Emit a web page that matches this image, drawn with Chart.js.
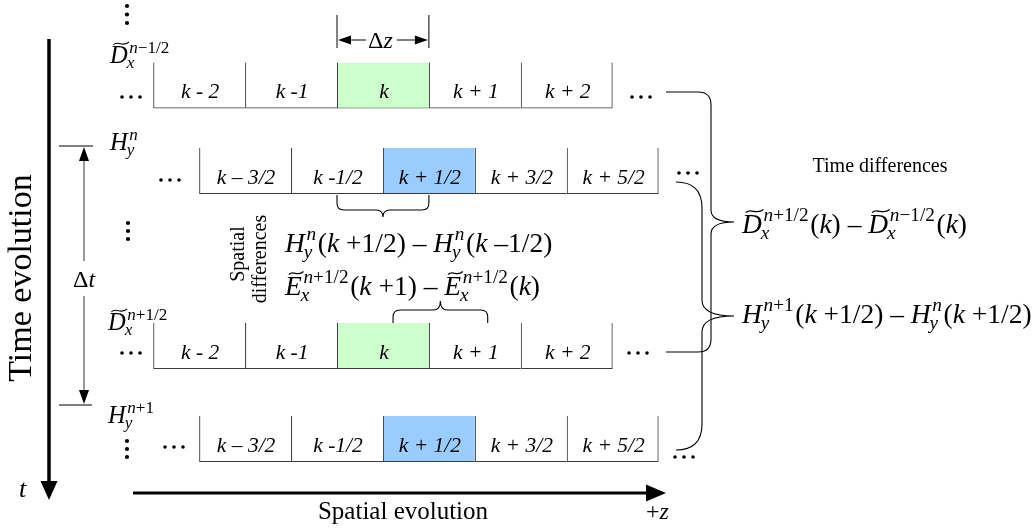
<!DOCTYPE html>
<html><head><meta charset="utf-8">
<script src="https://cdn.jsdelivr.net/npm/chart.js@4.4.0/dist/chart.umd.min.js"></script>
<style>html,body{margin:0;padding:0;background:#fff;overflow:hidden}#wrap{width:1034px;height:531px}</style>
</head><body><div id="wrap"><canvas id="c" width="1034" height="531"></canvas></div>
<script>
// ---------- data ----------
const integerCellStarts = [-2, -1, 0, 1, 2];
const integerCellLabels = ['k - 2', 'k -1', 'k', 'k + 1', 'k + 2'];
const halfCellStarts = [-1.5, -0.5, 0.5, 1.5, 2.5];
const halfCellLabels = ['k \u2013 3/2', 'k -1/2', 'k + 1/2', 'k + 3/2', 'k + 5/2'];
const rowNames = ['D n-1/2', 'H n', 'D n+1/2', 'H n+1'];
const rowIsHalf = [false, true, false, true];
const highlightIndex = 2;

// ---------- layout / style ----------
const SERIF = '"Liberation Serif", "Times New Roman", serif';
const X0PX = 337, UNIT = 91.9;
const ROW_CENTER = [85.5, 171, 346, 439];
const ROW_H = 46;
const GREEN = '#ccffcc', BLUE = '#99ccff', EDGE = '#3a3a3a';

const datasets = rowNames.map((name, r) => {
  const starts = rowIsHalf[r] ? halfCellStarts : integerCellStarts;
  const labels = rowIsHalf[r] ? halfCellLabels : integerCellLabels;
  const hl = rowIsHalf[r] ? BLUE : GREEN;
  return {
    label: name,
    cellLabels: labels,
    data: starts.map(s => ({ x: [s, s + 1], y: ROW_CENTER[r] })),
    backgroundColor: starts.map((s, i) => i === highlightIndex ? hl : 'rgba(255,255,255,0)'),
    borderColor: EDGE,
    borderWidth: ctx => ({ top: 0, bottom: 1, left: 1, right: ctx.dataIndex === starts.length - 1 ? 1 : 0 }),
    borderSkipped: false,
    inflateAmount: 0,
    barThickness: ROW_H,
    grouped: false
  };
});

// ---------- math text helpers ----------
function runs(ctx, x, y, str, size) {
  const parts = str.match(/([A-Za-z]+|[^A-Za-z]+)/g) || [];
  for (const p of parts) {
    const it = /[A-Za-z]/.test(p);
    ctx.font = (it ? 'italic ' : '') + size + 'px ' + SERIF;
    ctx.fillText(p, x, y);
    x += ctx.measureText(p).width;
  }
  return x;
}
function tilde(ctx, a, b, y0, lw) {
  ctx.save();
  ctx.lineWidth = lw;
  ctx.beginPath();
  ctx.moveTo(a, y0 + 1.5);
  ctx.bezierCurveTo(a + (b - a) * 0.3, y0 - 3.5, a + (b - a) * 0.6, y0 + 4.5, b, y0 - 1.5);
  ctx.stroke();
  ctx.restore();
}
function math(ctx, x, y, tokens, size, ratio) {
  ratio = ratio || 0.7;
  ctx.textAlign = 'left';
  ctx.textBaseline = 'alphabetic';
  let cx = x;
  for (const t of tokens) {
    if (typeof t === 'string') { cx = runs(ctx, cx, y, t, size); continue; }
    if (t.tl) {
      const nx = runs(ctx, cx, y, t.tl, size);
      tilde(ctx, cx + size * 0.14, nx + size * 0.06, y - size * 0.8, Math.max(1, size * 0.045));
      cx = nx; continue;
    }
    const ss = size * ratio;
    let e1 = cx, e2 = cx;
    if (t.sup) e1 = runs(ctx, cx + size * 0.06, y - size * 0.42, t.sup, ss);
    if (t.sub) e2 = runs(ctx, cx - size * 0.04, y + size * 0.22, t.sub, ss);
    cx = Math.max(e1, e2) + size * 0.06;
  }
  return cx;
}

// ---------- drawing helpers ----------
function seg(ctx, x1, y1, x2, y2, w, c) {
  ctx.save(); ctx.strokeStyle = c || '#000'; ctx.lineWidth = w;
  ctx.beginPath(); ctx.moveTo(x1, y1); ctx.lineTo(x2, y2); ctx.stroke(); ctx.restore();
}
function head(ctx, tx, ty, dir, len, hw) {
  ctx.save(); ctx.fillStyle = '#000'; ctx.beginPath();
  if (dir === 'down') { ctx.moveTo(tx, ty); ctx.lineTo(tx - hw, ty - len); ctx.lineTo(tx + hw, ty - len); }
  if (dir === 'up') { ctx.moveTo(tx, ty); ctx.lineTo(tx - hw, ty + len); ctx.lineTo(tx + hw, ty + len); }
  if (dir === 'right') { ctx.moveTo(tx, ty); ctx.lineTo(tx - len, ty - hw); ctx.lineTo(tx - len, ty + hw); }
  if (dir === 'left') { ctx.moveTo(tx, ty); ctx.lineTo(tx + len, ty - hw); ctx.lineTo(tx + len, ty + hw); }
  ctx.closePath(); ctx.fill(); ctx.restore();
}
function hdots(ctx, x, y) { ctx.save(); ctx.fillStyle = '#000'; for (let i = 0; i < 3; i++) { ctx.beginPath(); ctx.arc(x + i * 9, y, 1.8, 0, 7); ctx.fill(); } ctx.restore(); }
function vdots(ctx, x, y, gap) { ctx.save(); ctx.fillStyle = '#000'; for (let i = 0; i < 3; i++) { ctx.beginPath(); ctx.arc(x, y + i * gap, 2.1, 0, 7); ctx.fill(); } ctx.restore(); }
function vbrace(ctx, xEnd, yTop, yBot, sx, tipX, tipY, r1, r2) {
  ctx.save(); ctx.strokeStyle = '#000'; ctx.lineWidth = 1.1; ctx.beginPath();
  ctx.moveTo(xEnd, yTop);
  ctx.lineTo(sx - r1, yTop);
  ctx.quadraticCurveTo(sx, yTop, sx, yTop + r1);
  ctx.lineTo(sx, tipY - r2);
  ctx.quadraticCurveTo(sx, tipY, tipX, tipY);
  ctx.quadraticCurveTo(sx, tipY, sx, tipY + r2);
  ctx.lineTo(sx, yBot - r1);
  ctx.quadraticCurveTo(sx, yBot, sx - r1, yBot);
  ctx.lineTo(xEnd, yBot);
  ctx.stroke(); ctx.restore();
}
function hbrace(ctx, x1, x2, yEnd, sy, tipX, tipY, r) {
  ctx.save(); ctx.strokeStyle = '#000'; ctx.lineWidth = 1.1; ctx.beginPath();
  const d = Math.sign(sy - yEnd);
  ctx.moveTo(x1, yEnd);
  ctx.lineTo(x1, sy - d * r);
  ctx.quadraticCurveTo(x1, sy, x1 + r, sy);
  ctx.lineTo(tipX - r, sy);
  ctx.quadraticCurveTo(tipX, sy, tipX, tipY);
  ctx.quadraticCurveTo(tipX, sy, tipX + r, sy);
  ctx.lineTo(x2 - r, sy);
  ctx.quadraticCurveTo(x2, sy, x2, sy - d * r);
  ctx.lineTo(x2, yEnd);
  ctx.stroke(); ctx.restore();
}

const cellLabelPlugin = {
  id: 'cellLabels',
  afterDatasetsDraw(chart) {
    const ctx = chart.ctx;
    ctx.save();
    ctx.fillStyle = '#000';
    ctx.textAlign = 'center';
    ctx.textBaseline = 'alphabetic';
    ctx.font = 'italic 21.5px ' + SERIF;
    chart.data.datasets.forEach((ds, di) => {
      chart.getDatasetMeta(di).data.forEach((el, i) => {
        const p = el.getProps(['x', 'y', 'base'], true);
        ctx.fillText(ds.cellLabels[i], (p.x + p.base) / 2 + 1, p.y + 12.5);
      });
    });
    ctx.restore();
  }
};

const annotPlugin = {
  id: 'annot',
  afterDraw(chart) {
    const ctx = chart.ctx;
    const xs = v => chart.scales.x.getPixelForValue(v);
    ctx.save();
    ctx.fillStyle = '#000';
    ctx.strokeStyle = '#000';

    // time axis
    seg(ctx, 49, 39, 49, 484, 3.5);
    head(ctx, 49, 500, 'down', 19, 8.5);
    // spatial axis
    seg(ctx, 133, 493, 648, 493, 3);
    head(ctx, 666, 493, 'right', 20, 8.5);

    // axis labels
    ctx.save();
    ctx.translate(31, 278); ctx.rotate(-Math.PI / 2);
    ctx.textAlign = 'center'; ctx.textBaseline = 'alphabetic';
    ctx.font = '34px ' + SERIF; ctx.fillText('Time evolution', 0, 0);
    ctx.restore();
    math(ctx, 19, 497, ['t'], 26);
    ctx.textAlign = 'center'; ctx.font = '25px ' + SERIF;
    ctx.fillText('Spatial evolution', 403, 519);
    math(ctx, 646, 519, ['+', 'z'], 24);

    // Δz
    const a = xs(0), b = xs(1);
    seg(ctx, a, 15, a, 48, 1);
    seg(ctx, b, 15, b, 48, 1);
    seg(ctx, a + 10, 40, a + 29, 40, 1);
    seg(ctx, b - 32, 40, b - 10, 40, 1);
    head(ctx, a + 1, 40, 'left', 13, 4.5);
    head(ctx, b - 1, 40, 'right', 13, 4.5);
    math(ctx, a + 31, 48, ['\u0394', 'z'], 24);

    // Δt
    seg(ctx, 59, 146, 93, 146, 1);
    seg(ctx, 59, 405, 92, 405, 1);
    seg(ctx, 84, 158, 84, 261, 1.2, '#555');
    seg(ctx, 84, 296, 84, 393, 1.2, '#555');
    head(ctx, 84, 147, 'up', 14, 5);
    head(ctx, 84, 404, 'down', 14, 5);
    math(ctx, 73, 287, ['\u0394', 't'], 24);

    // row field labels
    math(ctx, 110, 63, [{ tl: 'D' }, { sup: 'n\u22121/2', sub: 'x' }], 24.5);
    math(ctx, 110, 150, ['H', { sup: 'n', sub: 'y' }], 24.5);
    math(ctx, 108, 330, [{ tl: 'D' }, { sup: 'n+1/2', sub: 'x' }], 24.5);
    math(ctx, 108, 423, ['H', { sup: 'n+1', sub: 'y' }], 24.5);

    // ellipses
    vdots(ctx, 127, 6, 8.5);
    vdots(ctx, 128, 223, 8);
    vdots(ctx, 127, 441, 8);
    hdots(ctx, 122, 97); hdots(ctx, 632, 97);
    hdots(ctx, 161, 180); hdots(ctx, 679, 173);
    hdots(ctx, 122, 353); hdots(ctx, 629, 353);
    hdots(ctx, 165, 447); hdots(ctx, 675, 457);

    // spatial braces
    hbrace(ctx, xs(0), xs(1), 195, 210, (xs(0) + xs(1)) / 2, 217, 7);
    hbrace(ctx, xs(0.61), xs(1.64), 323, 310, (xs(0.61) + xs(1.64)) / 2, 301, 7);

    // spatial differences label
    ctx.save();
    ctx.font = '20px ' + SERIF; ctx.textAlign = 'center'; ctx.textBaseline = 'alphabetic';
    ctx.translate(244, 254); ctx.rotate(-Math.PI / 2); ctx.fillText('Spatial', 0, 0);
    ctx.restore();
    ctx.save();
    ctx.font = '20px ' + SERIF; ctx.textAlign = 'center'; ctx.textBaseline = 'alphabetic';
    ctx.translate(266, 259); ctx.rotate(-Math.PI / 2); ctx.fillText('differences', 0, 0);
    ctx.restore();

    const sp = '\u2009';
    math(ctx, 285, 252, ['H', { sup: 'n', sub: 'y' }, '(k +1/2) \u2013 ', 'H', { sup: 'n', sub: 'y' }, '(k ' + '\u20131/2)'], 27.5);
    math(ctx, 285, 295, [{ tl: 'E' }, { sup: 'n+1/2', sub: 'x' }, '(k +1) \u2013 ', { tl: 'E' }, { sup: 'n+1/2', sub: 'x' }, '(k)'], 27.5);

    // time braces
    vbrace(ctx, 666, 92, 352, 711, 734, 222, 13, 12);
    vbrace(ctx, 676, 182, 450, 702, 734, 316, 26, 16);

    ctx.textAlign = 'center'; ctx.font = '20px ' + SERIF;
    ctx.fillText('Time differences', 880, 172);
    math(ctx, 742, 233, [{ tl: 'D' }, { sup: 'n+1/2', sub: 'x' }, '(k) \u2013 ', { tl: 'D' }, { sup: 'n\u22121/2', sub: 'x' }, '(k)'], 27.5);
    math(ctx, 742, 323, ['H', { sup: 'n+1', sub: 'y' }, '(k +1/2) \u2013 ', 'H', { sup: 'n', sub: 'y' }, '(k +1/2)'], 27.5);

    ctx.restore();
  }
};

new Chart(document.getElementById('c'), {
  type: 'bar',
  data: { datasets },
  options: {
    indexAxis: 'y',
    responsive: false,
    animation: false,
    events: [],
    layout: { padding: 0 },
    scales: {
      x: { type: 'linear', display: false, offset: false, min: -X0PX / UNIT, max: (1034 - X0PX) / UNIT },
      y: { type: 'linear', display: false, offset: false, min: 0, max: 531, reverse: true }
    },
    plugins: { legend: { display: false }, tooltip: { enabled: false } }
  },
  plugins: [cellLabelPlugin, annotPlugin]
});
</script></body></html>
